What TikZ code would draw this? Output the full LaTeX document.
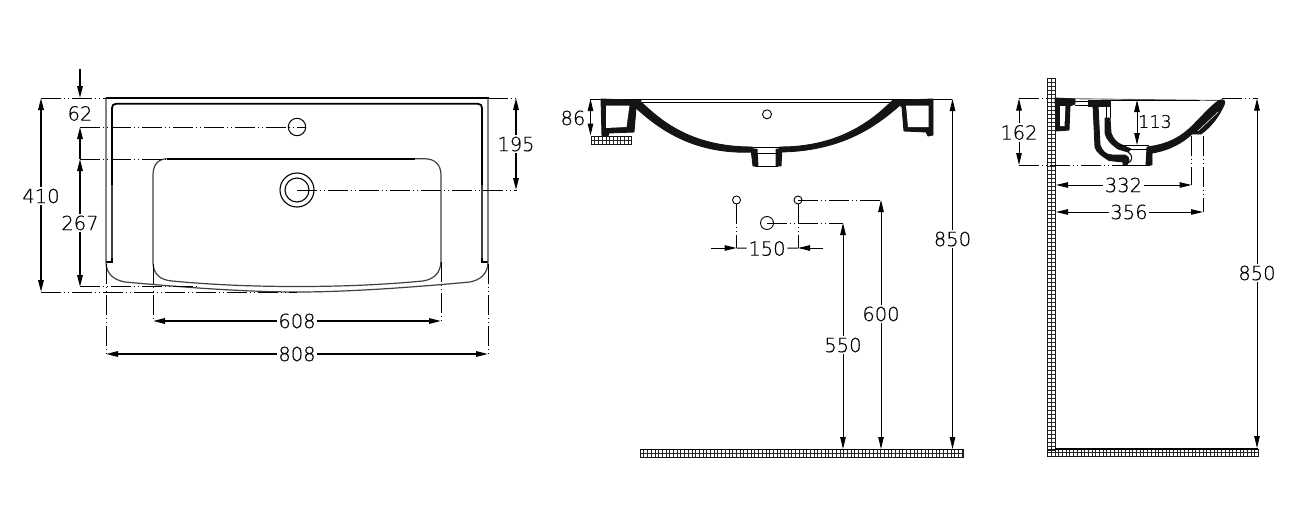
\documentclass[tikz,border=0pt]{standalone}
\usepackage{fontspec}
\setmainfont[FakeBold=0.4]{DejaVu Sans ExtraLight}
\usetikzlibrary{arrows.meta}
\tikzset{
  dimlab/.style={font=\fontsize{19.5}{20}\selectfont,inner sep=1.5pt,text=black},
  smalllab/.style={font=\fontsize{17.5}{18}\selectfont,inner sep=1.5pt,text=black},
  dimthick/.style={line width=1.5pt},
  dimthin/.style={line width=1pt},
  tip/.style={-{Stealth[inset=0pt,length=12pt,width=5.5pt]}},
  tipboth/.style={{Stealth[inset=0pt,length=12pt,width=5.5pt]}-{Stealth[inset=0pt,length=12pt,width=5.5pt]}},
  axis/.style={line width=.6pt,dash pattern=on 20pt off 3pt on 1pt off 3pt on 1pt off 3pt},
  rim/.style={line width=1.8pt},
  edge/.style={line width=1.2pt,black!75},
  solidblack/.style={fill=black!92,draw=black!92,line width=.9pt,line join=round},
}
% corner x, corner y, width, height, cell width, cell height
\newcommand{\hatchbox}[6]{%
  \begin{scope}[shift={(#1,#2)}]
    \foreach \hx in {0,#5,...,#3} {\draw[line width=.6pt,black!85] (\hx,0) -- (\hx,#4);}
    \foreach \hy in {0,#6,...,#4} {\draw[line width=.6pt,black!85] (0,\hy) -- (#3,\hy);}
    \draw[line width=1pt,black!90] (0,0) rectangle (#3,#4);
  \end{scope}}
\begin{document}
\begin{tikzpicture}[x=1pt,y=-1pt]
\useasboundingbox (0,0) rectangle (1304,514);

% ---------- PLAN VIEW ----------
\draw[rim] (105.5,98) -- (488.5,98);
\draw[rim] (112,185) -- (112,108) .. controls (112,105.5) and (113.5,103.8) .. (116,103.8) -- (478,103.8) .. controls (480.5,103.8) and (482,105.5) .. (482,108) -- (482,185);
\draw[edge] (112,185) -- (112,260);
\draw[edge] (482,185) -- (482,260);
\draw[rim] (106,262) -- (112,262) -- (112,258);
\draw[rim] (488,262) -- (482,262) -- (482,258);
\draw[edge] (106,98) -- (106,262) .. controls (106,274) and (114,280) .. (125,282) .. controls (190,288) and (250,292) .. (297,292) .. controls (345,292) and (405,288) .. (470,282) .. controls (480,280) and (488,274) .. (488,262) -- (488,98);
% basin
\draw[rim] (167,158.8) -- (415,158.8);
\draw[edge] (167,158.8) .. controls (158,158.8) and (153,165) .. (153,175) -- (153,262) .. controls (153,274) and (160,280) .. (172,281) .. controls (215,285) and (255,286.5) .. (297,286.5) .. controls (340,286.5) and (380,285) .. (423,281) .. controls (435,279) and (441,272) .. (441,260) -- (441,175) .. controls (441,165) and (435,158.8) .. (425,158.8) -- (415,158.8);
% holes
\draw[line width=1pt] (297,127) circle[radius=8.7];
\draw[line width=1.1pt] (297,190) circle[radius=17];
\draw[line width=1.1pt] (297,190) circle[radius=12];
% axes
\draw[axis] (80,127) -- (306,127);
\draw[axis] (297,190) -- (517,190);
\draw[axis] (80,159) -- (168,159);
\draw[axis] (41,98) -- (106,98);
\draw[axis] (488,98) -- (517,98);
\draw[axis] (41,292) -- (297,292);
\draw[axis] (80,286.5) -- (200,286.5);
\draw[axis] (106,264) -- (106,354);
\draw[axis] (153,264) -- (153,321);
\draw[axis] (441,262) -- (441,321);
\draw[axis] (488,264) -- (488,354);
% dimensions
\coordinate (a410t) at (41,98); \coordinate (a410b) at (41,292);
\node[dimlab] (t410) at (41,196) {410};
\draw[dimthick,tip] (t410) -- (a410t);
\draw[dimthick,tip] (t410) -- (a410b);
\coordinate (a62s) at (80,69); \coordinate (a62e) at (80,98);
\coordinate (a62u) at (80,127); \coordinate (a62d) at (80,159);
\node[dimlab] (t62) at (80,113.5) {62};
\draw[dimthick,tip] (a62s) -- (a62e);
\draw[dimthick,tip] (a62d) -- (a62u);
\coordinate (a267b) at (80,287);
\node[dimlab] (t267) at (80,223) {267};
\draw[dimthick,tip] (t267) -- (a62d);
\draw[dimthick,tip] (t267) -- (a267b);
\coordinate (a195t) at (516,98); \coordinate (a195b) at (516,190);
\node[dimlab] (t195) at (516,144) {195};
\draw[dimthick,tip] (t195) -- (a195t);
\draw[dimthick,tip] (t195) -- (a195b);
\coordinate (a608l) at (153,321); \coordinate (a608r) at (441,321);
\node[dimlab] (t608) at (297,321) {608};
\draw[dimthick,tip] (t608) -- (a608l);
\draw[dimthick,tip] (t608) -- (a608r);
\coordinate (a808l) at (106,354); \coordinate (a808r) at (488,354);
\node[dimlab] (t808) at (297,354) {808};
\draw[dimthick,tip] (t808) -- (a808l);
\draw[dimthick,tip] (t808) -- (a808r);

% ---------- FRONT VIEW ----------
\draw[line width=.9pt] (590,99) -- (952,99);
\draw[line width=.7pt] (640,102) -- (893,102);
\hatchbox{591}{136}{40}{8}{3.7}{4}
\fill[solidblack] (601,99) -- (641,100.5) -- (636,108) -- (634,132) -- (609,133) -- (608,136) -- (602,136) -- cycle;
\fill[white] (606,105.5) -- (629.5,105.5) -- (626.5,127) -- (606,128) -- cycle;
\fill[solidblack] (933,99) -- (893,100.5) -- (902,107) -- (904,131) -- (926,132) -- (928,136) -- (933,135) -- cycle;
\fill[white] (906,105.5) -- (928.5,105.5) -- (928.5,127) -- (908,127) -- cycle;
\fill[solidblack] (640,101) .. controls (660,120) and (690,147) .. (752,147) -- (755,152) .. controls (695,155) and (660,130) .. (635,107) -- cycle;
\fill[solidblack] (893,100) .. controls (873,120) and (840,147) .. (780,147) -- (777,152) .. controls (840,152) and (875,127) .. (899,106) -- cycle;
\fill[solidblack] (751,149) -- (757,149) -- (758,166) -- (753,166) -- cycle;
\fill[solidblack] (776,149) -- (782,149) -- (781,166) -- (776,166) -- cycle;
\draw[line width=.7pt] (755,153) -- (778,153);
\draw[line width=.7pt] (755,166) -- (778,166);
\draw[line width=.7pt] (753,147.5) -- (781,147.5);
\draw[line width=.9pt] (767,114.3) circle[radius=4.5];
\draw[line width=.9pt] (736.5,200) circle[radius=4];
\draw[line width=.9pt] (798,200) circle[radius=4];
\draw[line width=.9pt] (767,223) circle[radius=6.5];
\hatchbox{640}{449.5}{323}{7.5}{3.7}{3.75}
\draw[line width=1.5pt] (640,449.5) -- (963,449.5);
\draw[axis] (798,200) -- (881,200);
\draw[axis] (767,223) -- (843,223);
\draw[axis] (736.5,204) -- (736.5,248);
\draw[axis] (798,204) -- (798,248);
\coordinate (a86t) at (590.5,99); \coordinate (a86b) at (590.5,135.5);
\draw[dimthin,tipboth] (a86t) -- (a86b);
\node[dimlab] (t86) at (573,118) {86};
\coordinate (a850t) at (952.5,99); \coordinate (a850b) at (952.5,449);
\node[dimlab] (t850) at (952.5,239) {850};
\draw[dimthin,tip] (t850) -- (a850t);
\draw[dimthin,tip] (t850) -- (a850b);
\coordinate (a600t) at (881,200); \coordinate (a600b) at (881,449);
\node[dimlab] (t600) at (881,314) {600};
\draw[dimthin,tip] (t600) -- (a600t);
\draw[dimthin,tip] (t600) -- (a600b);
\coordinate (a550t) at (843,223); \coordinate (a550b) at (843,449);
\node[dimlab] (t550) at (843,345) {550};
\draw[dimthin,tip] (t550) -- (a550t);
\draw[dimthin,tip] (t550) -- (a550b);
\coordinate (a150a) at (711,248); \coordinate (a150b) at (736.5,248);
\coordinate (a150c) at (823,248); \coordinate (a150d) at (798,248);
\node[dimlab] (t150) at (767,248.5) {150};
\draw[dimthin,tip] (a150a) -- (a150b);
\draw[dimthin,tip] (a150c) -- (a150d);
\draw[dimthin] (a150b) -- (t150);
\draw[dimthin] (a150d) -- (t150);

% ---------- SIDE VIEW ----------
\hatchbox{1047.5}{78}{7.5}{372}{3.75}{4}
\hatchbox{1047.5}{449}{210.5}{7}{3.7}{3.5}
\draw[line width=1.8pt] (1055,449) -- (1258,449);
\draw[line width=.9pt,black!65] (1055,98.5) -- (1222,100.5);
\draw[line width=.6pt] (1110,100) -- (1200,100);
% wall bracket
\fill[solidblack] (1055,98) -- (1075,99) -- (1075,104) -- (1070,106) -- (1069,130) -- (1056,131) -- cycle;
\fill[white] (1060,106) -- (1065.5,106) -- (1064.5,126) -- (1060,126) -- cycle;
\draw[line width=.8pt] (1075,101.5) -- (1088,101.5) (1075,105.5) -- (1088,105.5);
\fill[solidblack] (1088,100) -- (1110,100) -- (1110,106) -- (1088,106) -- cycle;
% overflow channel and trap
\fill[solidblack] (1093,105) -- (1098,105) -- (1100,145) .. controls (1102,151) and (1106,155) .. (1112,155) -- (1125,155) .. controls (1128,156) and (1129,158) .. (1129,160) -- (1127,165) -- (1123,165) -- (1123,162) -- (1109,160.5) .. controls (1102,156) and (1096,152) .. (1095,147) -- cycle;
\fill[solidblack] (1105,118) -- (1110,118) -- (1111,133) .. controls (1113,139) and (1117,143) .. (1122,145) -- (1131,149) -- (1128,152) -- (1118,149) .. controls (1111,144) and (1106,139) .. (1105,133) -- cycle;
\draw[line width=.8pt] (1106,106) -- (1106,118) (1110,106) -- (1110,118);
\draw[line width=1pt] (1128,152) .. controls (1133,155) and (1133,161) .. (1128,163);
% bowl
\fill[solidblack] (1147,147) .. controls (1172,144) and (1185,134) .. (1197,121) .. controls (1205,113) and (1212,105) .. (1219,100.5) .. controls (1224,98) and (1226,102) .. (1224,105) .. controls (1219,116) and (1212,126) .. (1201,134) -- (1192,134) .. controls (1182,143) and (1170,150) .. (1152,153) -- (1152,165) -- (1146,165) -- cycle;
\draw[white,line width=.5pt] (1198,131) -- (1218,112);
\draw[line width=.8pt] (1118,145) -- (1149,145);
\draw[line width=.8pt] (1128,149.5) -- (1147,149.5);
\draw[line width=1pt] (1124,165) -- (1150,165);
\draw[axis] (1019,98.5) -- (1047,98.5);
\draw[axis] (1222,98.5) -- (1258,98.5);
\draw[axis] (1019,165) -- (1125,165);
\draw[axis] (1191.5,136) -- (1191.5,185);
\draw[axis] (1203,136) -- (1203,212);
\coordinate (a162t) at (1019,98.5); \coordinate (a162b) at (1019,165);
\node[dimlab] (t162) at (1019,132.5) {162};
\draw[dimthin,tip] (t162) -- (a162t);
\draw[dimthin,tip] (t162) -- (a162b);
\coordinate (a113t) at (1137,100); \coordinate (a113b) at (1137,145);
\draw[dimthin,tipboth] (a113t) -- (a113b);
\node[smalllab] (t113) at (1155,121.5) {113};
\coordinate (a332l) at (1056,185); \coordinate (a332r) at (1191.5,185);
\node[dimlab] (t332) at (1123.5,185) {332};
\draw[dimthin,tip] (t332) -- (a332l);
\draw[dimthin,tip] (t332) -- (a332r);
\coordinate (a356l) at (1056,212); \coordinate (a356r) at (1203,212);
\node[dimlab] (t356) at (1129,212) {356};
\draw[dimthin,tip] (t356) -- (a356l);
\draw[dimthin,tip] (t356) -- (a356r);
\coordinate (b850t) at (1257,98.5); \coordinate (b850b) at (1257,448);
\node[dimlab] (u850) at (1257,273) {850};
\draw[dimthin,tip] (u850) -- (b850t);
\draw[dimthin,tip] (u850) -- (b850b);
\end{tikzpicture}
\end{document}
